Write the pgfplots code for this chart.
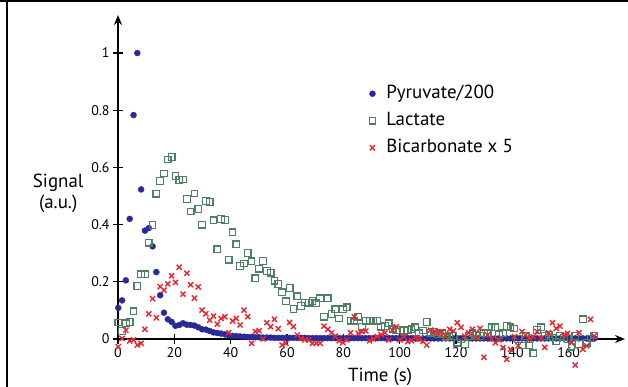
\documentclass[border=0pt]{standalone}
\usepackage{pgfplots}
\pgfplotsset{compat=1.18}
\usepackage{pgfplotstable}
\usepackage{fontspec}
\setmainfont{PT Sans}
\usetikzlibrary{arrows.meta}
\definecolor{pyr}{RGB}{42,42,150}
\definecolor{lac}{RGB}{78,128,98}
\definecolor{bic}{RGB}{232,38,48}
\pgfplotstableread{
t pyr lac bic
0.10 0.109 0.058 -0.027
1.45 0.135 0.028 0.002
2.80 0.205 0.055 0.031
4.16 0.420 0.060 -0.007
5.51 0.783 0.097 -0.003
6.86 1.000 0.186 -0.021
8.21 0.523 0.226 -0.015
9.56 0.379 0.226 0.034
10.92 0.388 0.337 0.088
12.27 0.324 0.399 0.141
13.62 0.234 0.508 0.074
14.97 0.153 0.552 0.183
16.32 0.092 0.579 0.171
17.68 0.069 0.628 0.193
19.03 0.060 0.636 0.221
20.38 0.046 0.570 0.198
21.73 0.049 0.556 0.251
23.08 0.055 0.558 0.157
24.44 0.050 0.490 0.230
25.79 0.049 0.446 0.190
27.14 0.047 0.509 0.143
28.49 0.041 0.455 0.182
29.84 0.034 0.400 0.101
31.20 0.033 0.483 0.088
32.55 0.028 0.479 0.066
33.90 0.023 0.415 0.080
35.25 0.021 0.314 0.052
36.60 0.019 0.420 0.072
37.96 0.016 0.416 0.078
39.31 0.013 0.277 0.022
40.66 0.011 0.373 0.063
42.01 0.010 0.331 0.072
43.36 0.009 0.255 0.049
44.72 0.008 0.264 0.101
46.07 0.007 0.301 0.078
47.42 0.007 0.272 -0.015
48.77 0.006 0.212 0.026
50.12 0.006 0.246 0.029
51.48 0.005 0.273 0.000
52.83 0.005 0.238 0.057
54.18 0.005 0.232 0.043
55.53 0.004 0.204 0.069
56.88 0.004 0.193 0.036
58.24 0.004 0.163 -0.021
59.59 0.004 0.132 -0.015
60.94 0.004 0.178 0.058
62.29 0.004 0.105 0.043
63.64 0.004 0.149 0.014
65.00 0.004 0.115 0.002
66.35 0.004 0.128 -0.003
67.70 0.003 0.127 -0.003
69.05 0.003 0.133 -0.015
70.40 0.003 0.125 -0.015
71.76 0.003 0.142 -0.015
73.11 0.003 0.078 0.045
74.46 0.003 0.142 0.034
75.81 0.003 0.087 0.022
77.16 0.003 0.104 0.010
78.52 0.003 0.072 -0.006
79.87 0.003 0.104 -0.013
81.22 0.003 0.111 -0.003
82.57 0.003 0.064 0.022
83.92 0.003 0.064 0.078
85.28 0.003 0.078 0.020
86.63 0.003 0.043 0.026
87.98 0.003 0.064 0.028
89.33 0.003 0.064 -0.006
90.68 0.003 0.064 0.000
92.04 0.003 0.064 0.008
93.39 0.003 0.043 0.015
94.74 0.003 0.045 0.022
96.09 0.003 0.055 -0.003
97.44 0.003 0.034 0.031
98.80 0.003 0.031 0.043
100.15 0.003 0.031 -0.003
101.50 0.003 0.028 0.010
102.85 0.003 0.031 -0.009
104.20 0.003 0.034 -0.006
105.56 0.002 0.041 0.005
106.91 0.002 0.020 0.000
108.26 0.002 0.030 -0.009
109.61 0.002 0.060 -0.021
110.96 0.002 0.022 0.031
112.32 0.002 0.026 0.026
113.67 0.002 0.017 0.020
115.02 0.002 0.020 0.026
116.37 0.002 0.008 0.010
117.72 0.002 0.012 0.034
119.08 0.002 0.010 0.028
120.43 0.002 -0.013 0.057
121.78 0.002 0.000 0.041
123.13 0.002 -0.017 0.010
124.48 0.002 0.010 0.022
125.84 0.002 0.020 0.034
127.19 0.002 0.015 0.005
128.54 0.002 0.010 0.037
129.89 0.002 0.020 -0.064
131.24 0.002 0.020 0.014
132.60 0.002 0.041 0.000
133.95 0.002 0.041 -0.013
135.30 0.002 0.014 -0.003
136.65 0.002 0.020 -0.030
138.00 0.002 0.045 -0.071
139.36 0.002 0.041 -0.036
140.71 0.002 0.037 0.008
142.06 0.002 0.000 -0.024
143.41 0.002 -0.023 0.026
144.76 0.002 0.010 0.014
146.12 0.002 -0.023 0.000
147.47 0.002 -0.050 0.008
148.82 0.002 0.031 0.026
150.17 0.002 0.041 0.002
151.52 0.002 0.010 -0.029
152.88 0.002 0.016 0.022
154.23 0.002 0.005 0.057
155.58 0.002 -0.009 0.037
156.93 0.002 0.010 0.045
158.28 0.002 0.005 0.014
159.64 0.002 0.000 0.020
160.99 0.002 -0.027 -0.013
162.34 0.002 0.010 -0.091
163.69 0.002 -0.017 0.022
165.04 0.002 0.069 -0.036
166.40 0.002 -0.013 -0.024
167.75 0.002 0.002 0.069
169.10 0.002 0.012 0.010
}\datatable
\begin{document}
\begin{tikzpicture}
\path[use as bounding box] (0,0) rectangle (628bp,-387bp);
\draw[line width=1.5bp] (0,-0.75bp) -- (628bp,-0.75bp);
\draw[line width=2bp] (7bp,0) -- (7bp,-387bp);
\begin{axis}[
  at={(118bp,-339bp)}, anchor=south west,
  scale only axis, width=507bp, height=324bp,
  xmin=0, xmax=180, ymin=0, ymax=1.133,
  enlargelimits=false, clip=false,
  axis lines=left,
  axis line style={line width=1.3bp, -{Stealth[length=10bp,width=8bp]}},
  xtick={0,20,...,160}, ytick={0,0.2,0.4,0.6,0.8,1},
  tick align=center, major tick length=10bp,
  tick style={line width=1.3bp, black},
  /pgf/number format/assume math mode=true,
  tick label style={font=\fontsize{14}{14}\selectfont},
  xlabel={Time (s)},
  xlabel style={at={(axis description cs:0.517,-0.118)}, anchor=center, font=\fontsize{19}{21}\selectfont},
  ylabel={Signal\\(a.u.)},
  ylabel style={rotate=-90, align=center, at={(axis description cs:-0.118,0.45)}, anchor=center, font=\fontsize{19}{21}\selectfont},
  legend style={draw=none, fill=none, inner sep=0pt, at={(axis description cs:0.495,0.79)}, anchor=north west,
    font=\fontsize{19}{21}\selectfont, row sep=6bp,
    nodes={inner sep=1.5bp, text height=14bp, text depth=4bp},
    /tikz/every odd column/.append style={column sep=9bp}},
  legend cell align=left,
  legend image code/.code={\draw[#1] plot coordinates {(6bp,0bp)};},
]
\addplot[only marks, mark=*, mark size=3bp, color=pyr, mark options={draw=pyr, fill=pyr}] table[x=t, y=pyr] {\datatable};
\addlegendentry{Pyruvate/200}
\addplot[only marks, mark=square, mark size=3.3bp, color=lac, mark options={line width=1.2bp}] table[x=t, y=lac] {\datatable};
\addlegendentry{Lactate}
\addplot[only marks, mark=x, mark size=3.6bp, color=bic, mark options={line width=1.4bp}] table[x=t, y=bic] {\datatable};
\addlegendentry{Bicarbonate x 5}
\end{axis}
\end{tikzpicture}
\end{document}
